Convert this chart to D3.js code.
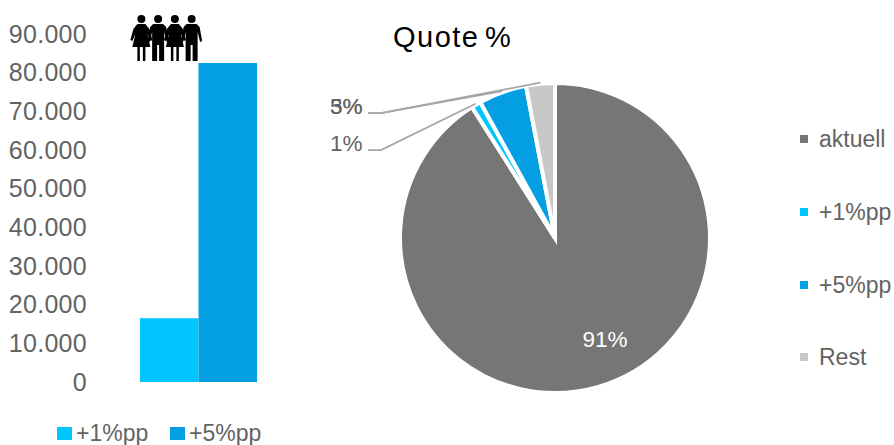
<!DOCTYPE html>
<html><head><meta charset="utf-8">
<script src="https://cdnjs.cloudflare.com/ajax/libs/d3/7.8.5/d3.min.js"></script>
<style>
html,body{margin:0;padding:0;background:#fff}
svg{display:block}
text{font-family:"Liberation Sans",Arial,sans-serif}
</style></head><body>
<svg id="c" width="894" height="445"></svg>
<script>
const barSeries = ["+1%pp", "+5%pp"];
const barValues = [16500, 82500];
const barTicks = [0, 10000, 20000, 30000, 40000, 50000, 60000, 70000, 80000, 90000];
const pieCategories = ["aktuell", "+1%pp", "+5%pp", "Rest"];
const pieValues = [91, 1, 5, 3];
const colors = {"aktuell": "#767676", "+1%pp": "#00c5ff", "+5%pp": "#049ee2", "Rest": "#c8c8c8"};
const legendRows = [139, 212, 285, 357];
const textColor = "#636363";
const tickFormat = d => d3.format(",")(d).replace(/,/g, ".");

const svg = d3.select("#c");

// Column chart
const y = d3.scaleLinear().domain([0, 90000]).range([382, 34]);
const x = d3.scaleBand().domain(barSeries).range([140, 257]).padding(0);
const axis = d3.axisLeft(y).tickValues(barTicks).tickFormat(tickFormat).tickSize(0).tickPadding(0);
const ag = svg.append("g").attr("transform", "translate(87,0)").call(axis);
ag.select(".domain").remove();
ag.selectAll("text").attr("font-size", 25).attr("fill", textColor).attr("letter-spacing", 0.3)
  .style("font-family", '"Liberation Sans",Arial,sans-serif');
svg.append("g").selectAll("rect").data(barSeries).join("rect")
  .attr("x", d => x(d)).attr("width", x.bandwidth())
  .attr("y", (d, i) => y(barValues[i]))
  .attr("height", (d, i) => y(0) - y(barValues[i]))
  .attr("fill", d => colors[d]);

// Bottom legend for the columns
const bl = svg.append("g").selectAll("g").data(barSeries).join("g")
  .attr("transform", (d, i) => `translate(${[57, 170][i]},427)`);
bl.append("rect").attr("width", 15).attr("height", 13).attr("fill", d => colors[d]);
bl.append("text").attr("x", 19).attr("y", 14).attr("font-size", 23).attr("fill", textColor).text(d => d);

// Row of four figures above the columns
const figures = ["f", "m", "f", "m"];
const figureX = d3.scaleBand().domain(d3.range(figures.length)).range([133, 200]);
const fig = svg.append("g").selectAll("g").data(figures).join("g")
  .attr("transform", (d, i) => `translate(${figureX(i) + figureX.bandwidth() / 2},15)`);
fig.append("circle").attr("cy", 4).attr("r", 4).attr("fill", "#000");
fig.append("path").attr("fill", "#000").attr("d", d => d === "f"
  ? "M-4,9 L4,9 L8,14 L11,25 L9,26 L6,19 L9,32 L4,32 L4,46 L1.5,46 L1.5,32 L-1.5,32 L-1.5,46 L-4,46 L-4,32 L-9,32 L-6,19 L-9,26 L-11,25 L-8,14 Z"
  : "M-5,9 L5,9 L8,12 L10.5,26 L8.5,27 L6,17 L6,46 L1,46 L1,30 L-1,30 L-1,46 L-6,46 L-6,17 L-8.5,27 L-10.5,26 L-8,12 Z");

// Pie chart
const cx = 555, cy = 238, R = 155;
const pie = d3.pie().sort(null).value(d => d)(pieValues);
const arc = d3.arc().innerRadius(0).outerRadius(R);
const g = svg.append("g").attr("transform", `translate(${cx},${cy})`);
g.selectAll("path").data(pie).join("path")
  .attr("d", arc)
  .attr("fill", (d, i) => colors[pieCategories[i]])
  .attr("stroke", "#fff").attr("stroke-width", 4).attr("stroke-linejoin", "miter");

svg.append("text").attr("x", 393).attr("y", 47)
  .attr("font-size", 29).attr("letter-spacing", 1.5).attr("word-spacing", -4).attr("fill", "#000").text("Quote %");

// Leader lines and outside labels
const leaderArc = d3.arc().innerRadius(156).outerRadius(156);
const labelRow = {1: 150, 2: 113, 3: 113};
const leaders = svg.append("g").attr("fill", "none").attr("stroke", "#a6a6a6").attr("stroke-width", 1.75);
[2, 3, 1].forEach(i => {
  const [px, py] = leaderArc.centroid(pie[i]);
  const ly = labelRow[i];
  leaders.append("polyline").attr("points", `368,${ly} 381,${ly} ${cx + px},${cy + py}`);
  svg.append("text").attr("x", 362.5).attr("y", ly + 1).attr("text-anchor", "end")
    .attr("font-size", 22.5).attr("fill", textColor).text(pieValues[i] + "%");
});

// Value label inside the largest slice
svg.append("text").attr("x", 605).attr("y", 347).attr("text-anchor", "middle")
  .attr("font-size", 22.5).attr("fill", "#fff").text(pieValues[0] + "%");

// Right legend
const rl = svg.append("g").selectAll("g").data(pieCategories).join("g")
  .attr("transform", (d, i) => `translate(800,${legendRows[i]})`);
rl.append("rect").attr("y", -4).attr("width", 8).attr("height", 8).attr("fill", d => colors[d]);
rl.append("text").attr("x", 19).attr("y", 8).attr("font-size", 23).attr("fill", textColor).text(d => d);
</script>
</body></html>
